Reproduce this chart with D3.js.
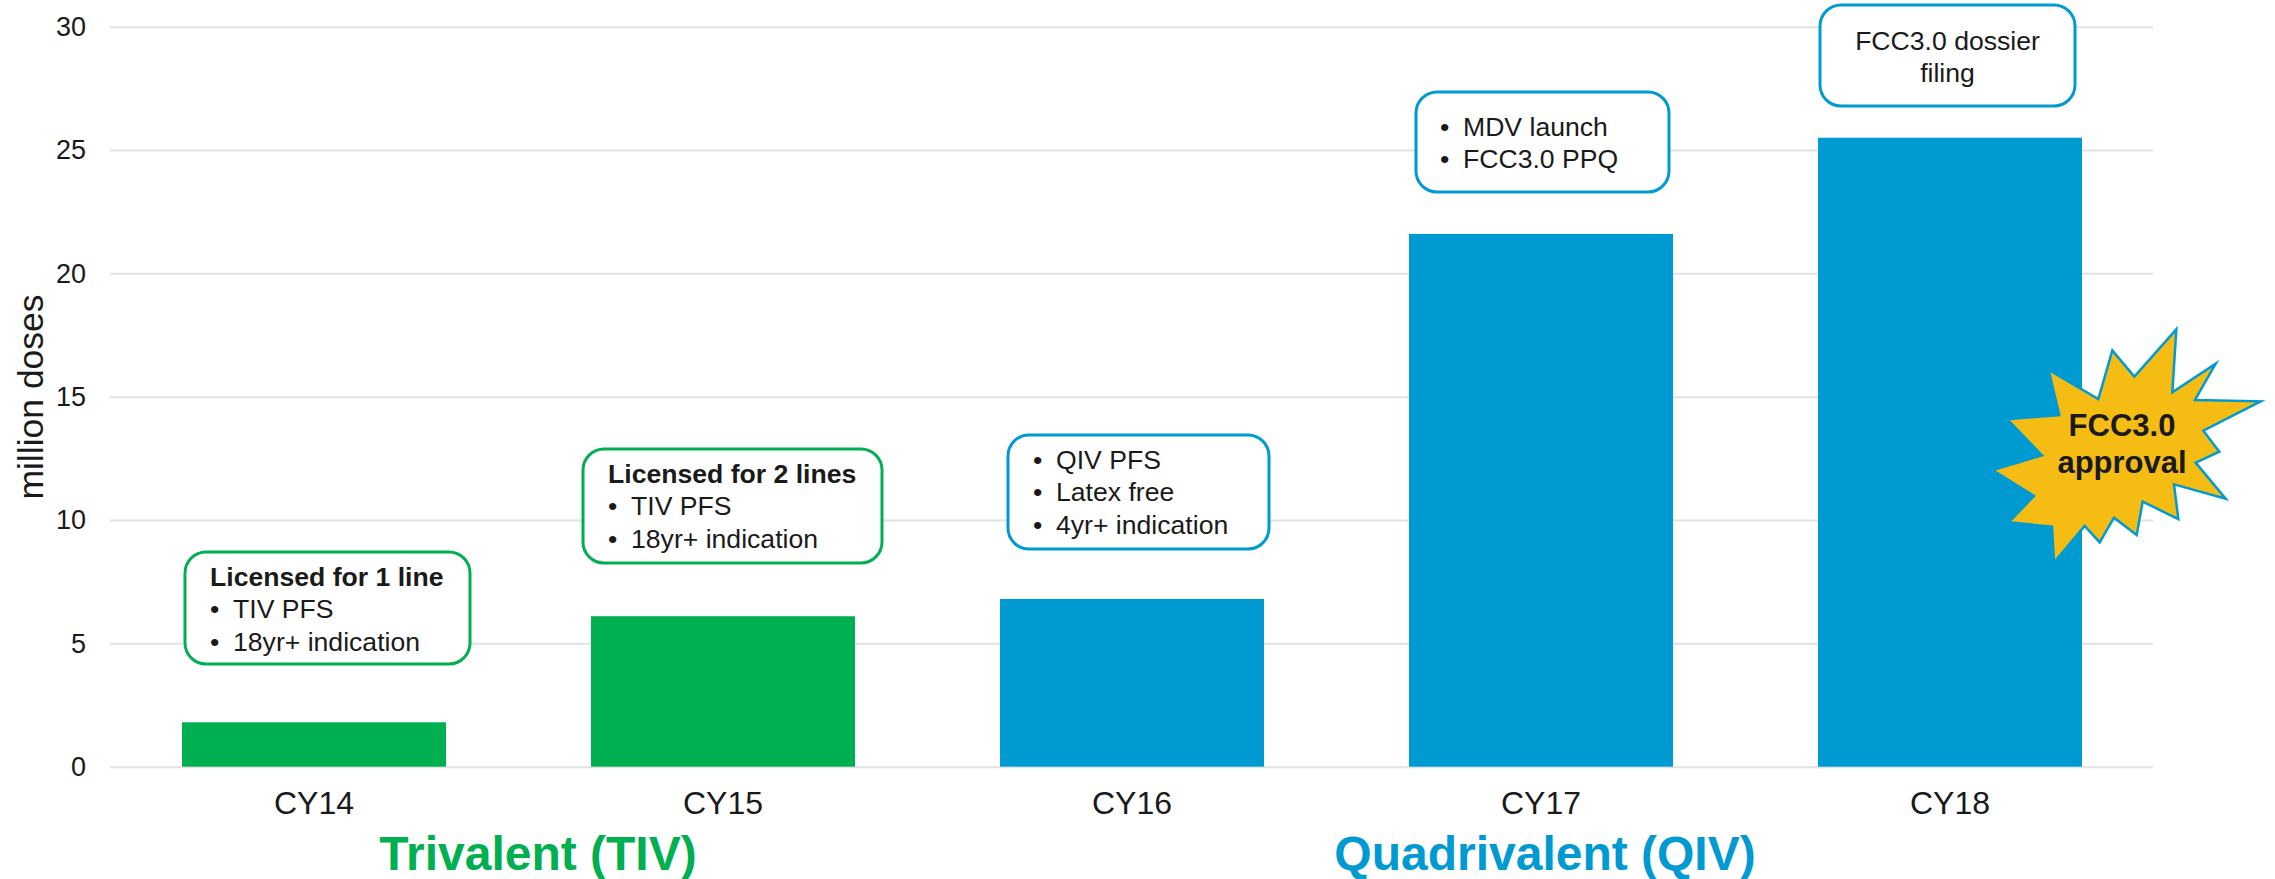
<!DOCTYPE html>
<html lang="en">
    <head>
        <meta charset="utf-8">
        <title>Million doses by year</title>
        <script src="https://d3js.org/d3.v7.min.js"></script>
        <style type="text/css">
            html, body { margin: 0; padding: 0; background: #fff; }
            svg { display: block; }
            text { font-family: "Liberation Sans", Arial, sans-serif; fill: #1a1a1a; }
            .grid line { stroke: #e2e2e2; stroke-width: 2px; }
        </style>
    </head>
    <body>
        <script type="text/javascript">

            //Data
            const years = ["CY14", "CY15", "CY16", "CY17", "CY18"];
            const doses = [1.8, 6.1, 6.8, 21.6, 25.5];
            const vaccineType = ["TIV", "TIV", "QIV", "QIV", "QIV"];
            const yTicks = [0, 5, 10, 15, 20, 25, 30];
            const calloutHeads = ["Licensed for 1 line", "Licensed for 2 lines", "", "", ""];
            const calloutItems = [
                ["TIV PFS", "18yr+ indication"],
                ["TIV PFS", "18yr+ indication"],
                ["QIV PFS", "Latex free", "4yr+ indication"],
                ["MDV launch", "FCC3.0 PPQ"],
                []
            ];
            const filingNote = ["FCC3.0 dossier", "filing"];
            const approvalNote = ["FCC3.0", "approval"];

            //Declaring constants
            const w = 2275;
            const h = 879;
            const green = "#00af50";
            const blue = "#009ad3";
            const calloutFont = "26.6px";

            //scales
            const xScale = d3.scaleBand()
                             .domain(years)
                             .range([109.5, 2154.5])
                             .paddingInner(0.3545)
                             .paddingOuter(0.1773);

            const yScale = d3.scaleLinear()
                             .domain([0, 30])
                             .range([766.7, 26.7]);

            const colorScale = d3.scaleOrdinal()
                                 .domain(["TIV", "QIV"])
                                 .range([green, blue]);

            //SVG elements
            const svg = d3.select("body")
                          .append("svg")
                          .attr("width", w)
                          .attr("height", h);

            //left axis, ticks stretched into gridlines
            const leftAxis = d3.axisLeft(yScale)
                               .tickValues(yTicks)
                               .tickSize(-2043)
                               .tickPadding(24);

            const yAxis = svg.append("g")
                             .attr("class", "grid")
                             .attr("transform", "translate(110,0)")
                             .call(leftAxis);
            yAxis.select(".domain").remove();
            yAxis.selectAll("text").attr("font-size", "27px").attr("font-family", null);

            //bottom axis
            const bottomAxis = d3.axisBottom(xScale)
                                 .tickSize(0)
                                 .tickPadding(25);

            const xAxis = svg.append("g")
                             .attr("transform", "translate(0," + yScale(0) + ")")
                             .call(bottomAxis);
            xAxis.select(".domain").remove();
            xAxis.selectAll("text").attr("font-size", "32px").attr("font-family", null);

            //bars
            svg.selectAll(".bar")
               .data(years)
               .join("rect")
               .attr("class", "bar")
               .attr("x", d => xScale(d))
               .attr("y", (d, i) => yScale(doses[i]))
               .attr("width", xScale.bandwidth())
               .attr("height", (d, i) => yScale(0) - yScale(doses[i]))
               .attr("fill", (d, i) => colorScale(vaccineType[i]));

            //y axis label
            svg.append("text")
               .attr("transform", "translate(43,397) rotate(-90)")
               .attr("text-anchor", "middle")
               .attr("font-size", "35.5px")
               .text("million doses");

            //group labels under the axis
            svg.append("text")
               .attr("x", 538)
               .attr("y", 870)
               .attr("text-anchor", "middle")
               .attr("font-size", "48px")
               .attr("font-weight", "bold")
               .style("fill", green)
               .text("Trivalent (TIV)");

            svg.append("text")
               .attr("x", 1545)
               .attr("y", 870)
               .attr("text-anchor", "middle")
               .attr("font-size", "48px")
               .attr("font-weight", "bold")
               .style("fill", blue)
               .text("Quadrivalent (QIV)");

            //callout boxes, one per year
            const boxes = [
                {x0: 185, x1: 470, y0: 552, y1: 664, textX: 210, baseY: 586},
                {x0: 583, x1: 882, y0: 449, y1: 563, textX: 608, baseY: 483},
                {x0: 1008, x1: 1269, y0: 435, y1: 549, textX: 1033, baseY: 469},
                {x0: 1416, x1: 1669, y0: 92, y1: 192, textX: 1440, baseY: 136},
                {x0: 1820, x1: 2075, y0: 5, y1: 106, textX: 1947.5, baseY: 50}
            ];
            const lineGap = 32.3;

            boxes.forEach((b, i) => {
                svg.append("rect")
                   .attr("x", b.x0)
                   .attr("y", b.y0)
                   .attr("width", b.x1 - b.x0)
                   .attr("height", b.y1 - b.y0)
                   .attr("rx", 21)
                   .attr("fill", "#fff")
                   .attr("stroke", colorScale(vaccineType[i]))
                   .attr("stroke-width", 3);

                let y = b.baseY;
                if (calloutHeads[i]) {
                    svg.append("text")
                       .attr("x", b.textX)
                       .attr("y", y)
                       .attr("font-size", calloutFont)
                       .attr("font-weight", "bold")
                       .text(calloutHeads[i]);
                    y += lineGap;
                }
                calloutItems[i].forEach(item => {
                    svg.append("text")
                       .attr("x", b.textX)
                       .attr("y", y)
                       .attr("font-size", calloutFont)
                       .text("•");
                    svg.append("text")
                       .attr("x", b.textX + 23)
                       .attr("y", y)
                       .attr("font-size", calloutFont)
                       .text(item);
                    y += lineGap;
                });
            });

            //CY18 box is centered text
            filingNote.forEach((t, i) => {
                svg.append("text")
                   .attr("x", boxes[4].textX)
                   .attr("y", boxes[4].baseY + i * lineGap)
                   .attr("text-anchor", "middle")
                   .attr("font-size", calloutFont)
                   .text(t);
            });

            //starburst
            const star = [[679,88],[667,277],[797,191],[735,300],[932,304],[760,392],[808,455],[737,488],
                          [827,596],[672,553],[685,657],[578,605],[560,705],[492,653],[449,727],[404,678],
                          [312,788],[306,680],[176,667],[252,588],[128,510],[276,466],[172,358],[328,345],
                          [296,210],[445,297],[487,151],[553,230]];

            svg.append("polygon")
               .attr("points", star.map(p => [1950 + p[0] / 3, 300 + p[1] / 3].join(",")).join(" "))
               .attr("fill", "#f5bd14")
               .attr("stroke", blue)
               .attr("stroke-width", 2.5)
               .attr("stroke-miterlimit", 12);

            approvalNote.forEach((t, i) => {
                svg.append("text")
                   .attr("x", 2122)
                   .attr("y", 436 + i * 37)
                   .attr("text-anchor", "middle")
                   .attr("font-size", "31px")
                   .attr("font-weight", "bold")
                   .text(t);
            });

        </script>
    </body>
</html>
